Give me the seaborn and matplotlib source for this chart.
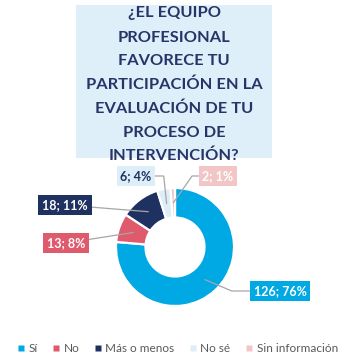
import numpy as np
import matplotlib
matplotlib.use("Agg")
import matplotlib.pyplot as plt
from matplotlib.patches import Rectangle
from matplotlib.lines import Line2D
import seaborn as sns

# Survey answers
categories = ["Sí", "No", "Más o menos", "No sé", "Sin información"]
counts = [126, 13, 18, 6, 2]
percents = [76, 8, 11, 4, 1]
colors = ["#00A8E4", "#E05A6D", "#1F3161", "#DDEEF9", "#F2C6C6"]
label_text_colors = ["white", "white", "white", "#1F3161", "white"]
title_lines = ["¿EL EQUIPO", "PROFESIONAL", "FAVORECE TU", "PARTICIPACIÓN EN LA",
               "EVALUACIÓN DE TU", "PROCESO DE", "INTERVENCIÓN?"]

sns.set_theme(style="white")
plt.rcParams["font.family"] = ["Lato", "DejaVu Sans"]
palette = sns.color_palette(colors)

W, H = 352, 357
fig = plt.figure(figsize=(W / 100, H / 100), dpi=100)
ax = fig.add_axes([0, 0, 1, 1])

# Donut (pixel-like data coordinates, y upwards)
cx, cy, R = 175, 110, 59
wedges, _ = ax.pie(counts, colors=palette, startangle=90, counterclock=False,
                   center=(cx, cy), radius=R,
                   wedgeprops=dict(width=R * 0.5, edgecolor="white", linewidth=1.6))
ax.set_xlim(0, W)
ax.set_ylim(0, H)
ax.set_aspect("equal")
ax.axis("off")

# Data labels with leader lines
label_pos = [(280, 66), (66, 114), (65, 152), (136, 181), (218, 181)]
connectors = ["angle,angleA=0,angleB=-23,rad=0",
              "arc3,rad=0",
              "arc3,rad=0",
              "angle,angleA=0,angleB=96,rad=0",
              "angle,angleA=0,angleB=55,rad=0"]
for w, n, p, col, tcol, pos, conn in zip(wedges, counts, percents, colors,
                                         label_text_colors, label_pos, connectors):
    ang = np.deg2rad((w.theta1 + w.theta2) / 2)
    rm = R * 0.75
    anchor = (cx + rm * np.cos(ang), cy + rm * np.sin(ang))
    ax.annotate(f"{n}; {p}%", xy=anchor, xytext=pos, ha="center", va="center",
                fontsize=9, fontweight="bold", color=tcol,
                bbox=dict(boxstyle="square,pad=0.3", fc=col, ec="none"),
                arrowprops=dict(arrowstyle="-", color="#A6A6A6", lw=0.9,
                                shrinkA=0, shrinkB=0, connectionstyle=conn))

# Title box with clipped text
box = Rectangle((76, H - 158), 196, 153, facecolor="#DFEFF9", edgecolor="none", zorder=0)
ax.add_patch(box)
line_y = [11, 35.7, 59.3, 82.7, 106.7, 130.7, 154.3]
for txt, y in zip(title_lines, line_y):
    t = ax.text(174, H - y - 6, txt, ha="center", va="baseline", fontsize=11.8,
                fontweight="bold", color="#263468", zorder=2)
    t.set_clip_path(box)

# Legend
handles = [Line2D([0], [0], marker="s", linestyle="none", markersize=4,
                  markerfacecolor=c, markeredgecolor="none") for c in colors]
fig.legend(handles, categories, loc="center", bbox_to_anchor=(0.505, 1 - 349 / H),
           ncol=5, frameon=False, fontsize=8.5, handlelength=0.5, handletextpad=0.4,
           columnspacing=1.3, labelcolor="#595959")

fig.savefig("out.png", dpi=100)
